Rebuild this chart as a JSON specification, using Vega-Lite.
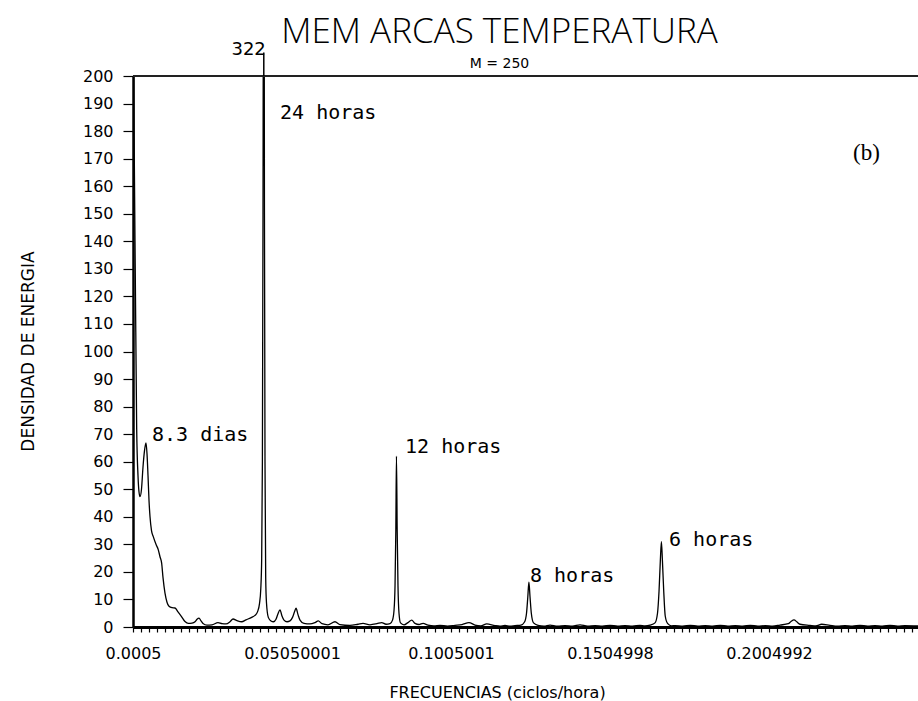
{
  "$schema": "https://vega.github.io/schema/vega-lite/v6.json",
  "width": 785,
  "height": 551,
  "autosize": {"type": "none"},
  "padding": {"left": 133, "top": 76, "right": 0, "bottom": 74},
  "background": "white",
  "config": {
    "view": {"stroke": null},
    "font": "DejaVu Sans",
    "axis": {"labelOverlap": false, "labelFlush": false, "grid": false}
  },
  "title": {
    "text": "MEM ARCAS TEMPERATURA",
    "subtitle": "M = 250",
    "font": "Open Sans",
    "fontSize": 35,
    "fontWeight": 300,
    "color": "black",
    "subtitleFont": "DejaVu Sans",
    "subtitleFontSize": 14,
    "subtitleColor": "black",
    "subtitlePadding": 7,
    "anchor": "middle",
    "dx": -26,
    "dy": 38,
    "offset": 8
  },
  "datasets": {
    "spectrum": [
      {"f": 0.0005, "p": 260},
      {"f": 0.00072, "p": 200},
      {"f": 0.00091, "p": 170},
      {"f": 0.00113, "p": 140},
      {"f": 0.00138, "p": 107},
      {"f": 0.00166, "p": 72},
      {"f": 0.00207, "p": 55},
      {"f": 0.00239, "p": 49},
      {"f": 0.0027, "p": 47.3},
      {"f": 0.00317, "p": 50},
      {"f": 0.00364, "p": 58},
      {"f": 0.00412, "p": 64},
      {"f": 0.00459, "p": 66.8},
      {"f": 0.0049, "p": 63},
      {"f": 0.00522, "p": 55},
      {"f": 0.00553, "p": 46},
      {"f": 0.00585, "p": 40},
      {"f": 0.00632, "p": 35},
      {"f": 0.00688, "p": 32.8},
      {"f": 0.00773, "p": 30},
      {"f": 0.00846, "p": 28},
      {"f": 0.00899, "p": 25.5},
      {"f": 0.00953, "p": 23},
      {"f": 0.00993, "p": 18},
      {"f": 0.01056, "p": 12.3},
      {"f": 0.01119, "p": 9},
      {"f": 0.01182, "p": 7.5},
      {"f": 0.01276, "p": 7},
      {"f": 0.01371, "p": 6.9},
      {"f": 0.01465, "p": 5.5},
      {"f": 0.01581, "p": 3.7},
      {"f": 0.01685, "p": 2},
      {"f": 0.0179, "p": 1.3},
      {"f": 0.01906, "p": 1.4},
      {"f": 0.02, "p": 1.9},
      {"f": 0.02063, "p": 2.8},
      {"f": 0.02126, "p": 3.2},
      {"f": 0.02189, "p": 2.2},
      {"f": 0.02251, "p": 1.3},
      {"f": 0.02377, "p": 0.7},
      {"f": 0.02534, "p": 0.8},
      {"f": 0.02723, "p": 1.6},
      {"f": 0.02849, "p": 1.2},
      {"f": 0.02975, "p": 1.1},
      {"f": 0.031, "p": 1.9},
      {"f": 0.03195, "p": 2.9},
      {"f": 0.03321, "p": 2.3},
      {"f": 0.03468, "p": 1.9},
      {"f": 0.03604, "p": 2.6},
      {"f": 0.03783, "p": 3.5},
      {"f": 0.03886, "p": 4.2},
      {"f": 0.03965, "p": 5.5},
      {"f": 0.04028, "p": 8.5},
      {"f": 0.04069, "p": 14},
      {"f": 0.04097, "p": 25},
      {"f": 0.04119, "p": 60},
      {"f": 0.04138, "p": 150},
      {"f": 0.04163, "p": 322},
      {"f": 0.04184, "p": 150},
      {"f": 0.04201, "p": 60},
      {"f": 0.04223, "p": 18},
      {"f": 0.04248, "p": 8.7},
      {"f": 0.04305, "p": 3.5},
      {"f": 0.0439, "p": 2.2},
      {"f": 0.04468, "p": 1.9},
      {"f": 0.04547, "p": 2.8},
      {"f": 0.0461, "p": 4.8},
      {"f": 0.04673, "p": 6.2},
      {"f": 0.04735, "p": 4},
      {"f": 0.04798, "p": 2.5},
      {"f": 0.04893, "p": 1.9},
      {"f": 0.04987, "p": 2.2},
      {"f": 0.05066, "p": 3.5},
      {"f": 0.05129, "p": 5.5},
      {"f": 0.05176, "p": 6.8},
      {"f": 0.05239, "p": 4.5},
      {"f": 0.05302, "p": 2.5},
      {"f": 0.05428, "p": 1.3},
      {"f": 0.05616, "p": 1.1},
      {"f": 0.05773, "p": 1.6},
      {"f": 0.05877, "p": 2.2},
      {"f": 0.05994, "p": 1.2},
      {"f": 0.06182, "p": 0.8},
      {"f": 0.06402, "p": 1.9},
      {"f": 0.0656, "p": 0.9},
      {"f": 0.06874, "p": 0.6},
      {"f": 0.07126, "p": 1.0},
      {"f": 0.07283, "p": 1.3},
      {"f": 0.07503, "p": 0.8},
      {"f": 0.07723, "p": 1.2},
      {"f": 0.07871, "p": 1.6},
      {"f": 0.08007, "p": 1.0},
      {"f": 0.08132, "p": 1.2},
      {"f": 0.08211, "p": 2.5},
      {"f": 0.08258, "p": 6},
      {"f": 0.0829, "p": 15},
      {"f": 0.08315, "p": 35},
      {"f": 0.08335, "p": 62},
      {"f": 0.08358, "p": 35},
      {"f": 0.08383, "p": 15},
      {"f": 0.08415, "p": 5},
      {"f": 0.08462, "p": 1.5},
      {"f": 0.08572, "p": 0.8},
      {"f": 0.08698, "p": 1.6},
      {"f": 0.08814, "p": 2.5},
      {"f": 0.08919, "p": 1.3},
      {"f": 0.09044, "p": 0.9},
      {"f": 0.0917, "p": 1.3},
      {"f": 0.09327, "p": 0.7},
      {"f": 0.09515, "p": 0.4},
      {"f": 0.09704, "p": 0.6},
      {"f": 0.0994, "p": 0.3},
      {"f": 0.10176, "p": 0.6},
      {"f": 0.10396, "p": 0.9},
      {"f": 0.10616, "p": 1.6},
      {"f": 0.10805, "p": 0.7},
      {"f": 0.10989, "p": 0.4},
      {"f": 0.11173, "p": 1.1},
      {"f": 0.11434, "p": 0.5},
      {"f": 0.11591, "p": 0.3},
      {"f": 0.11748, "p": 0.6},
      {"f": 0.11905, "p": 0.3},
      {"f": 0.12063, "p": 0.5},
      {"f": 0.12252, "p": 0.7},
      {"f": 0.12362, "p": 1.8},
      {"f": 0.12425, "p": 5},
      {"f": 0.12466, "p": 11},
      {"f": 0.125, "p": 16.3},
      {"f": 0.12535, "p": 11},
      {"f": 0.12576, "p": 5},
      {"f": 0.12645, "p": 1.5},
      {"f": 0.12787, "p": 0.6},
      {"f": 0.12975, "p": 0.3},
      {"f": 0.13164, "p": 0.7},
      {"f": 0.134, "p": 0.3},
      {"f": 0.13636, "p": 0.5},
      {"f": 0.13871, "p": 0.3},
      {"f": 0.14107, "p": 0.8},
      {"f": 0.14344, "p": 0.3},
      {"f": 0.1458, "p": 0.5},
      {"f": 0.14815, "p": 0.3},
      {"f": 0.15051, "p": 0.6},
      {"f": 0.15287, "p": 0.3},
      {"f": 0.15522, "p": 0.5},
      {"f": 0.15758, "p": 0.3},
      {"f": 0.15994, "p": 0.6},
      {"f": 0.16151, "p": 0.4},
      {"f": 0.16309, "p": 0.7},
      {"f": 0.16466, "p": 1.5},
      {"f": 0.16544, "p": 5},
      {"f": 0.16592, "p": 13},
      {"f": 0.16633, "p": 24},
      {"f": 0.16667, "p": 31},
      {"f": 0.16699, "p": 24},
      {"f": 0.1674, "p": 13},
      {"f": 0.16787, "p": 4},
      {"f": 0.16866, "p": 1.2},
      {"f": 0.16984, "p": 0.4},
      {"f": 0.17102, "p": 0.5},
      {"f": 0.17338, "p": 0.3},
      {"f": 0.17575, "p": 0.6},
      {"f": 0.17811, "p": 0.3},
      {"f": 0.18047, "p": 0.5},
      {"f": 0.18283, "p": 0.3},
      {"f": 0.18519, "p": 0.6},
      {"f": 0.18755, "p": 0.3},
      {"f": 0.1899, "p": 0.5},
      {"f": 0.19226, "p": 0.3},
      {"f": 0.19462, "p": 0.6},
      {"f": 0.19698, "p": 0.3},
      {"f": 0.19934, "p": 0.5},
      {"f": 0.20165, "p": 0.3},
      {"f": 0.20396, "p": 0.7},
      {"f": 0.20657, "p": 1.2},
      {"f": 0.20742, "p": 2.0},
      {"f": 0.20836, "p": 2.6},
      {"f": 0.20931, "p": 1.8},
      {"f": 0.21025, "p": 1.0},
      {"f": 0.2134, "p": 0.6},
      {"f": 0.21524, "p": 0.4},
      {"f": 0.21707, "p": 1.0},
      {"f": 0.21968, "p": 0.6},
      {"f": 0.22204, "p": 0.3},
      {"f": 0.2244, "p": 0.5},
      {"f": 0.22676, "p": 0.3},
      {"f": 0.22912, "p": 0.6},
      {"f": 0.23148, "p": 0.3},
      {"f": 0.23383, "p": 0.5},
      {"f": 0.23619, "p": 0.3},
      {"f": 0.23855, "p": 0.6},
      {"f": 0.24091, "p": 0.3},
      {"f": 0.24327, "p": 0.5},
      {"f": 0.24736, "p": 0.4}
    ],
    "notes": [
      {"f": 0.04673, "p": 186.6, "label": "24 horas"},
      {"f": 0.00648, "p": 69.7, "label": "8.3 dias"},
      {"f": 0.08604, "p": 65.3, "label": "12 horas"},
      {"f": 0.12534, "p": 18.5, "label": "8 horas"},
      {"f": 0.16906, "p": 31.6, "label": "6 horas"}
    ],
    "peak": [
      {"f": 0.04163, "p": 322, "label": "322"}
    ],
    "frame": [
      {"top": 200}
    ],
    "panel": [
      {"f": 0.22692, "p": 172, "label": "(b)"}
    ]
  },
  "layer": [
    {
      "data": {"name": "spectrum"},
      "mark": {"type": "line", "color": "black", "strokeWidth": 1.3, "clip": true, "interpolate": "monotone"},
      "encoding": {
        "x": {
          "field": "f",
          "type": "quantitative",
          "scale": {"domain": [0.0005, 0.24736], "nice": false, "zero": false},
          "axis": {
            "orient": "bottom",
            "values": [0.0005, 0.003, 0.0055, 0.008, 0.0105, 0.013, 0.0155, 0.018, 0.0205, 0.023, 0.0255, 0.028, 0.0305, 0.033, 0.0355, 0.038, 0.0405, 0.043, 0.0455, 0.048,
                       0.0505, 0.053, 0.0555, 0.058, 0.0605, 0.063, 0.0655, 0.068, 0.0705, 0.073, 0.0755, 0.078, 0.0805, 0.083, 0.0855, 0.088, 0.0905, 0.093, 0.0955, 0.098,
                       0.1005, 0.103, 0.1055, 0.108, 0.1105, 0.113, 0.1155, 0.118, 0.1205, 0.123, 0.1255, 0.128, 0.1305, 0.133, 0.1355, 0.138, 0.1405, 0.143, 0.1455, 0.148,
                       0.1505, 0.153, 0.1555, 0.158, 0.1605, 0.163, 0.1655, 0.168, 0.1705, 0.173, 0.1755, 0.178, 0.1805, 0.183, 0.1855, 0.188, 0.1905, 0.193, 0.1955, 0.198,
                       0.2005, 0.203, 0.2055, 0.208, 0.2105, 0.213, 0.2155, 0.218, 0.2205, 0.223, 0.2255, 0.228, 0.2305, 0.233, 0.2355, 0.238, 0.2405, 0.243, 0.2455],
            "labelExpr": "abs(datum.value - 0.0005) < 1e-6 ? '0.0005' : abs(datum.value - 0.0505) < 1e-6 ? '0.05050001' : abs(datum.value - 0.1005) < 1e-6 ? '0.1005001' : abs(datum.value - 0.1505) < 1e-6 ? '0.1504998' : abs(datum.value - 0.2005) < 1e-6 ? '0.2004992' : ''",
            "labelOverlap": false,
            "labelFlush": false,
            "grid": false,
            "domainColor": "black",
            "domainWidth": 3,
            "tickColor": "black",
            "tickWidth": 1.2,
            "tickSize": 5,
            "labelFont": "DejaVu Sans",
            "labelFontSize": 16,
            "labelColor": "black",
            "labelPadding": 13,
            "title": "FRECUENCIAS (ciclos/hora)",
            "titleFont": "DejaVu Sans",
            "titleFontSize": 16,
            "titleFontWeight": "normal",
            "titleColor": "black",
            "titleX": 364,
            "titleY": 65,
            "titleAlign": "center",
            "titleBaseline": "middle"
          }
        },
        "y": {
          "field": "p",
          "type": "quantitative",
          "scale": {"domain": [0, 200], "nice": false},
          "axis": {
            "orient": "left",
            "values": [0, 10, 20, 30, 40, 50, 60, 70, 80, 90, 100, 110, 120, 130, 140, 150, 160, 170, 180, 190, 200],
            "labelOverlap": false,
            "grid": false,
            "domainColor": "black",
            "domainWidth": 2.5,
            "tickColor": "black",
            "tickWidth": 1.2,
            "tickSize": 10,
            "labelFont": "DejaVu Sans",
            "labelFontSize": 16,
            "labelColor": "black",
            "labelPadding": 10,
            "title": "DENSIDAD DE ENERGIA",
            "titleFont": "DejaVu Sans",
            "titleFontSize": 17,
            "titleFontWeight": "normal",
            "titleColor": "black",
            "titleAngle": 270,
            "titleX": -105,
            "titleY": 275,
            "titleAlign": "center",
            "titleBaseline": "middle"
          }
        }
      }
    },
    {
      "data": {"name": "frame"},
      "mark": {"type": "rule", "color": "#222222", "strokeWidth": 2, "clip": false},
      "encoding": {"y": {"field": "top", "type": "quantitative", "axis": null}}
    },
    {
      "data": {"name": "peak"},
      "mark": {"type": "rule", "color": "black", "strokeWidth": 1.5, "clip": false},
      "encoding": {
        "x": {"field": "f", "type": "quantitative", "axis": null},
        "y": {"datum": 200, "type": "quantitative", "axis": null},
        "y2": {"datum": 208.5}
      }
    },
    {
      "data": {"name": "peak"},
      "mark": {"type": "text", "align": "right", "baseline": "alphabetic", "dx": 2, "dy": -21, "font": "DejaVu Sans", "fontSize": 18, "color": "black", "clip": false},
      "encoding": {
        "x": {"field": "f", "type": "quantitative", "axis": null},
        "y": {"datum": 200, "type": "quantitative", "axis": null},
        "text": {"field": "label"}
      }
    },
    {
      "data": {"name": "notes"},
      "mark": {"type": "text", "align": "left", "baseline": "middle", "font": "DejaVu Sans Mono", "fontSize": 20, "color": "black"},
      "encoding": {
        "x": {"field": "f", "type": "quantitative", "axis": null},
        "y": {"field": "p", "type": "quantitative", "axis": null},
        "text": {"field": "label"}
      }
    },
    {
      "data": {"name": "panel"},
      "mark": {"type": "text", "align": "left", "baseline": "middle", "font": "Liberation Serif", "fontSize": 23, "color": "black"},
      "encoding": {
        "x": {"field": "f", "type": "quantitative", "axis": null},
        "y": {"field": "p", "type": "quantitative", "axis": null},
        "text": {"field": "label"}
      }
    }
  ],
  "resolve": {"axis": {"x": "independent", "y": "independent"}}
}
